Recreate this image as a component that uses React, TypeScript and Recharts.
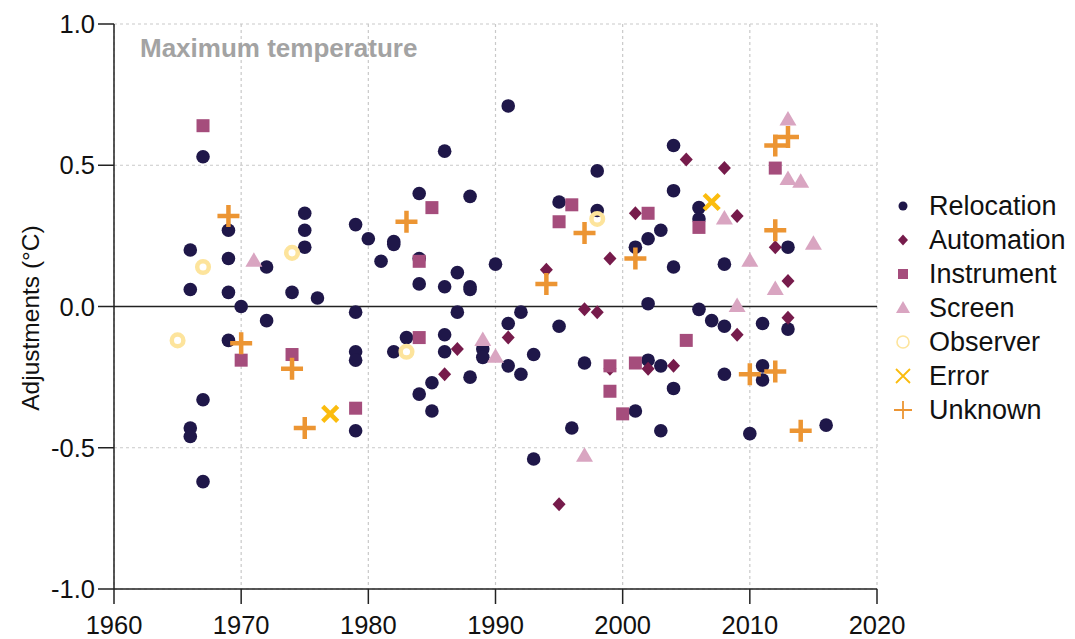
import React from "react";
import {
  ScatterChart,
  Scatter,
  XAxis,
  YAxis,
  CartesianGrid,
  ReferenceLine,
} from "recharts";

type Pt = [number, number];

// year, adjustment (°C)
const relocation: Pt[] = [
  [1966, 0.2], [1966, 0.06], [1966, -0.43], [1966, -0.46],
  [1967, 0.53], [1967, -0.33], [1967, -0.62],
  [1969, 0.27], [1969, 0.17], [1969, 0.05], [1969, -0.12],
  [1970, 0.0],
  [1972, 0.14], [1972, -0.05],
  [1974, 0.05],
  [1975, 0.33], [1975, 0.27], [1975, 0.21],
  [1976, 0.03],
  [1979, 0.29], [1979, -0.02], [1979, -0.16], [1979, -0.19], [1979, -0.44],
  [1980, 0.24],
  [1981, 0.16],
  [1982, 0.23], [1982, 0.22], [1982, -0.16],
  [1983, -0.11],
  [1984, 0.4], [1984, 0.17], [1984, 0.08], [1984, -0.31],
  [1985, -0.27], [1985, -0.37],
  [1986, 0.55], [1986, 0.07], [1986, -0.1], [1986, -0.16],
  [1987, 0.12], [1987, -0.02],
  [1988, 0.39], [1988, 0.07], [1988, 0.06], [1988, -0.25],
  [1989, -0.15], [1989, -0.18],
  [1990, 0.15],
  [1991, 0.71], [1991, -0.06], [1991, -0.21],
  [1992, -0.02], [1992, -0.24],
  [1993, -0.17], [1993, -0.54],
  [1995, 0.37], [1995, -0.07],
  [1996, -0.43],
  [1997, -0.2],
  [1998, 0.48], [1998, 0.34],
  [2001, 0.21], [2001, -0.37],
  [2002, 0.24], [2002, 0.01], [2002, -0.19],
  [2003, 0.27], [2003, -0.21], [2003, -0.44],
  [2004, 0.57], [2004, 0.41], [2004, 0.14], [2004, -0.29],
  [2006, 0.35], [2006, 0.31], [2006, -0.01],
  [2007, -0.05],
  [2008, 0.15], [2008, -0.07], [2008, -0.24],
  [2010, -0.45],
  [2011, -0.06], [2011, -0.21], [2011, -0.26],
  [2013, 0.21], [2013, -0.08],
  [2016, -0.42],
];

const automation: Pt[] = [
  [1986, -0.24], [1987, -0.15], [1991, -0.11], [1994, 0.13], [1995, -0.7],
  [1997, -0.01], [1998, -0.02], [1999, 0.17], [1999, -0.22], [2001, 0.33],
  [2002, -0.22], [2004, -0.21], [2005, 0.52], [2008, 0.49], [2009, 0.32],
  [2009, -0.1], [2012, 0.21], [2013, 0.09], [2013, -0.04],
];

const instrument: Pt[] = [
  [1967, 0.64], [1970, -0.19], [1974, -0.17], [1979, -0.36], [1984, 0.16],
  [1984, -0.11], [1985, 0.35], [1995, 0.3], [1996, 0.36], [1999, -0.21],
  [1999, -0.3], [2000, -0.38], [2001, -0.2], [2002, 0.33], [2005, -0.12],
  [2006, 0.28], [2012, 0.49],
];

const screen: Pt[] = [
  [1971, 0.16], [1989, -0.12], [1990, -0.18], [1997, -0.53], [2008, 0.31],
  [2009, 0.0], [2010, 0.16], [2012, 0.06], [2013, 0.66], [2013, 0.45],
  [2014, 0.44], [2015, 0.22],
];

const observer: Pt[] = [
  [1965, -0.12], [1967, 0.14], [1974, 0.19], [1983, -0.16], [1998, 0.31],
];

const errorPts: Pt[] = [
  [1977, -0.38], [2007, 0.37],
];

const unknown: Pt[] = [
  [1969, 0.32], [1970, -0.13], [1974, -0.22], [1975, -0.43], [1983, 0.3],
  [1994, 0.08], [1997, 0.26], [2001, 0.17], [2010, -0.24], [2012, -0.23],
  [2012, 0.27], [2012, 0.57], [2013, 0.6], [2014, -0.44],
];

const xTicks = [1960, 1970, 1980, 1990, 2000, 2010, 2020];
const yTicks = [-1, -0.5, 0, 0.5, 1];

const C = {
  relocation: "#1f1749",
  automation: "#761b4b",
  instrument: "#a54d7c",
  screen: "#d9a5c1",
  observer: "#fde49c",
  error: "#fbbc0e",
  unknown: "#ec9533",
};

const FONT = "Liberation Sans, Arial, sans-serif";

const toRows = (pts: Pt[]) => pts.map(([year, value]) => ({ year, value }));

// marker shapes ------------------------------------------------------------
type ShapeProps = { cx?: number; cy?: number };

const Dot = ({ cx = 0, cy = 0 }: ShapeProps) => (
  <circle cx={cx} cy={cy} r={6.8} fill={C.relocation} />
);
const Diamond = ({ cx = 0, cy = 0 }: ShapeProps) => (
  <path
    d={`M${cx},${cy - 7}L${cx + 6.5},${cy}L${cx},${cy + 7}L${cx - 6.5},${cy}Z`}
    fill={C.automation}
  />
);
const Square = ({ cx = 0, cy = 0 }: ShapeProps) => (
  <rect x={cx - 6.5} y={cy - 6.5} width={13} height={13} fill={C.instrument} />
);
const Triangle = ({ cx = 0, cy = 0 }: ShapeProps) => (
  <path
    d={`M${cx},${cy - 9}L${cx + 8.5},${cy + 5.5}L${cx - 8.5},${cy + 5.5}Z`}
    fill={C.screen}
  />
);
const Ring = ({ cx = 0, cy = 0 }: ShapeProps) => (
  <circle cx={cx} cy={cy} r={5.8} fill="none" stroke={C.observer} strokeWidth={4.5} />
);
const Cross = ({ cx = 0, cy = 0 }: ShapeProps) => (
  <path
    d={`M${cx - 7.5},${cy - 7.5}L${cx + 7.5},${cy + 7.5}M${cx + 7.5},${cy - 7.5}L${cx - 7.5},${cy + 7.5}`}
    stroke={C.error}
    strokeWidth={4.5}
  />
);
const Plus = ({ cx = 0, cy = 0 }: ShapeProps) => (
  <path
    d={`M${cx - 11},${cy}L${cx + 11},${cy}M${cx},${cy - 11}L${cx},${cy + 11}`}
    stroke={C.unknown}
    strokeWidth={4.5}
  />
);

// legend rows use small thin versions of the markers
const legendItems = [
  { label: "Relocation", icon: <circle cx={0} cy={0} r={4.5} fill={C.relocation} /> },
  { label: "Automation", icon: <path d="M0,-5.5L5,0L0,5.5L-5,0Z" fill={C.automation} /> },
  { label: "Instrument", icon: <rect x={-5} y={-5} width={10} height={10} fill={C.instrument} /> },
  { label: "Screen", icon: <path d="M0,-7L7,5L-7,5Z" fill={C.screen} /> },
  { label: "Observer", icon: <circle cx={0} cy={0} r={6} fill="none" stroke={C.observer} strokeWidth={1.6} /> },
  { label: "Error", icon: <path d="M-7,-7L7,7M7,-7L-7,7" stroke={C.error} strokeWidth={1.8} /> },
  { label: "Unknown", icon: <path d="M-9,0L9,0M0,-9L0,9" stroke={C.unknown} strokeWidth={1.8} /> },
];

function LegendBox() {
  return (
    <div
      style={{
        position: "absolute",
        left: 890,
        top: 189,
        fontFamily: FONT,
        fontSize: 27,
        color: "#111",
      }}
    >
      {legendItems.map((it) => (
        <div key={it.label} style={{ display: "flex", alignItems: "center", height: 34 }}>
          <svg width={26} height={26} viewBox="-13 -13 26 26" style={{ marginRight: 13 }}>
            {it.icon}
          </svg>
          <span>{it.label}</span>
        </div>
      ))}
    </div>
  );
}

const tickStyle = { fill: "#111", fontSize: 25.5, fontFamily: FONT };

export default function App() {
  return (
    <div style={{ position: "absolute", left: 0, top: 0, width: 1075, height: 639, background: "#fff" }}>
      <ScatterChart
        width={1075}
        height={639}
        margin={{ top: 24, right: 198, bottom: 0, left: 0 }}
      >
        <CartesianGrid strokeDasharray="3 3" stroke="#c9c9c9" strokeWidth={1.2} />
        <XAxis
          type="number"
          dataKey="year"
          domain={[1960, 2020]}
          ticks={xTicks}
          interval={0}
          height={50}
          tickSize={15}
          tickMargin={12}
          stroke="#222"
          strokeWidth={1.5}
          tick={tickStyle}
        />
        <YAxis
          type="number"
          dataKey="value"
          domain={[-1, 1]}
          ticks={yTicks}
          interval={0}
          width={114}
          tickSize={16}
          tickMargin={3}
          stroke="#222"
          strokeWidth={1.5}
          tick={tickStyle}
          tickFormatter={(v: number) => v.toFixed(1)}
          label={{
            content: () => (
              <g>
                <text
                  x={30}
                  y={318}
                  transform="rotate(-90 30 318)"
                  textAnchor="middle"
                  dominantBaseline="central"
                  fontSize={24.5}
                  fontFamily={FONT}
                  fill="#111"
                >
                  Adjustments (°C)
                </text>
                <text
                  x={140}
                  y={57}
                  fontSize={26}
                  fontWeight="bold"
                  fontFamily={FONT}
                  fill="#a3a3a3"
                >
                  Maximum temperature
                </text>
              </g>
            ),
          }}
        />
        <ReferenceLine y={0} stroke="#222" strokeWidth={1.3} />
        <Scatter name="Relocation" data={toRows(relocation)} shape={Dot} isAnimationActive={false} />
        <Scatter name="Automation" data={toRows(automation)} shape={Diamond} isAnimationActive={false} />
        <Scatter name="Instrument" data={toRows(instrument)} shape={Square} isAnimationActive={false} />
        <Scatter name="Screen" data={toRows(screen)} shape={Triangle} isAnimationActive={false} />
        <Scatter name="Observer" data={toRows(observer)} shape={Ring} isAnimationActive={false} />
        <Scatter name="Error" data={toRows(errorPts)} shape={Cross} isAnimationActive={false} />
        <Scatter name="Unknown" data={toRows(unknown)} shape={Plus} isAnimationActive={false} />
      </ScatterChart>
      <LegendBox />
    </div>
  );
}
